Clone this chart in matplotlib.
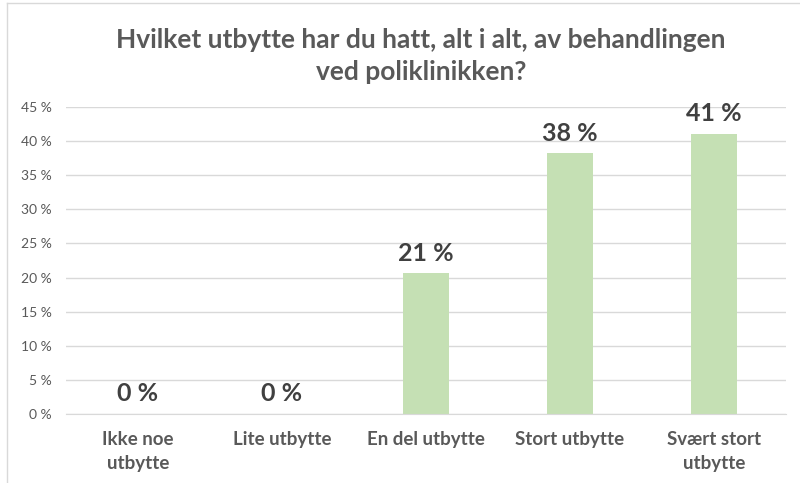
import matplotlib
matplotlib.use("Agg")
import matplotlib.pyplot as plt
from matplotlib.lines import Line2D

categories = ["Ikke noe\nutbytte", "Lite utbytte", "En del utbytte", "Stort utbytte", "Svært stort\nutbytte"]
values = [0, 0, 20.6, 38.2, 41.0]
yticks = [0, 5, 10, 15, 20, 25, 30, 35, 40, 45]
title = "Hvilket utbytte har du hatt, alt i alt, av behandlingen\nved poliklinikken?"

plt.rcParams['font.family'] = ['Lato', 'DejaVu Sans']

fig = plt.figure(figsize=(8, 4.83), dpi=100)
ax = fig.add_axes([66/800, 1-414/483, 720/800, (414-107)/483])

x = list(range(len(categories)))
ax.bar(x, values, width=0.32, color="#c5e0b4", zorder=2)
for xi, v in zip(x, values):
    ax.text(xi, v + 1.3, f"{v:.0f} %", ha="center", va="bottom", fontsize=18,
            fontweight="bold", color="#404040")

ax.set_xlim(-0.5, len(categories) - 0.5)
ax.set_ylim(0, 45)
ax.set_yticks(yticks)
ax.set_yticklabels([f"{t} %" for t in yticks], fontsize=10, color="#595959")
ax.set_xticks(x)
ax.set_xticklabels(categories, fontsize=13.5, fontweight="bold", color="#595959",
                   linespacing=1.55, va="top")
ax.tick_params(axis="both", length=0)
ax.tick_params(axis="x", pad=12)
ax.tick_params(axis="y", pad=10)
ax.grid(axis="y", color="#d9d9d9", linewidth=1, zorder=0)
for s in ["top", "right", "left"]:
    ax.spines[s].set_visible(False)
ax.spines["bottom"].set_color("#d9d9d9")

fig.text(421/800, 1-56/483, title, ha="center", va="center", fontsize=19,
         fontweight="bold", color="#595959", linespacing=1.42)

# outer chart border
fig.add_artist(Line2D([7/800, 7/800], [0, 1-3/483], transform=fig.transFigure, color="#d9d9d9", lw=1))
fig.add_artist(Line2D([7/800, 1], [1-3/483, 1-3/483], transform=fig.transFigure, color="#d9d9d9", lw=1))

fig.savefig("out.png", dpi=100)
